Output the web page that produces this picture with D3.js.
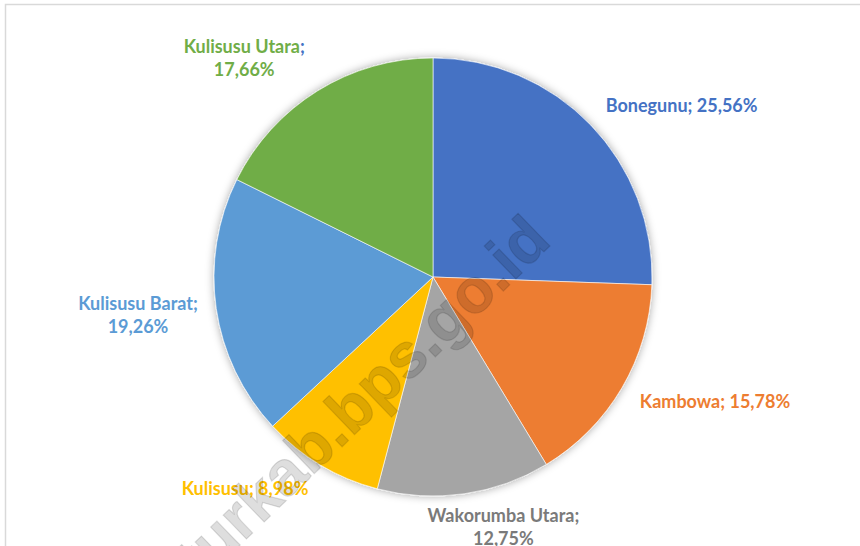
<!DOCTYPE html>
<html>
<head>
<meta charset="utf-8">
<script src="https://cdn.jsdelivr.net/npm/d3@7"></script>
<style>
  html, body { margin: 0; padding: 0; background: #fff; }
  svg { display: block; }
  .lbl { font-family: Lato, "Open Sans", sans-serif; font-weight: bold; font-size: 18px; }
</style>
</head>
<body>
<div id="chart"></div>
<script>
// Kecamatan shares (%)
var names = ["Bonegunu", "Kambowa", "Wakorumba Utara", "Kulisusu", "Kulisusu Barat", "Kulisusu Utara"];
var values = [25.56, 15.78, 12.75, 8.98, 19.26, 17.66];
var valueLabels = ["25,56%", "15,78%", "12,75%", "8,98%", "19,26%", "17,66%"];
var sliceColors = ["#4472C4", "#ED7D31", "#A5A5A5", "#FFC000", "#5B9BD5", "#70AD47"];
var textColors = ["#4472C4", "#ED7D31", "#7a7a7a", "#FFC000", "#5B9BD5", "#70AD47"];
// label line breaks, as Excel wrapped them
var labelLines = [
  ["Bonegunu; 25,56%"],
  ["Kambowa; 15,78%"],
  ["Wakorumba Utara;", "12,75%"],
  ["Kulisusu; 8,98%"],
  ["Kulisusu Barat;", "19,26%"],
  ["Kulisusu Utara;", "17,66%"]
];

var width = 860, height = 546;
var cx = 433, cy = 277, radius = 219, labelRadius = 290;
// best-fit nudges from the label arc
var nudge = [[40, 30], [32, -22], [29, -37], [-39, -37], [-8, -4], [-36, 27]];

var svg = d3.select("#chart").append("svg")
  .attr("width", width)
  .attr("height", height);

// chart area border
svg.append("rect")
  .attr("x", 5.5).attr("y", 4.5)
  .attr("width", width).attr("height", height)
  .attr("fill", "none")
  .attr("stroke", "#d9d9d9")
  .attr("stroke-width", 1.5);

var defs = svg.append("defs");
var f = defs.append("filter").attr("id", "shadow")
  .attr("x", "-20%").attr("y", "-20%").attr("width", "140%").attr("height", "140%");
f.append("feDropShadow")
  .attr("dx", 0).attr("dy", 0)
  .attr("stdDeviation", 4)
  .attr("flood-color", "#000")
  .attr("flood-opacity", 0.35);

var pie = d3.pie().sort(null).value(function(d) { return d; });
var arcs = pie(values);

var arc = d3.arc().innerRadius(0).outerRadius(radius);
var labelArc = d3.arc().innerRadius(labelRadius).outerRadius(labelRadius);

var g = svg.append("g").attr("transform", "translate(" + cx + "," + cy + ")");

g.append("g")
  .attr("filter", "url(#shadow)")
  .selectAll("path")
  .data(arcs)
  .enter().append("path")
  .attr("d", arc)
  .attr("fill", function(d, i) { return sliceColors[i]; })
  .attr("stroke", "#fff")
  .attr("stroke-width", 0.6);

// data labels
var lineH = 23;
arcs.forEach(function(d, i) {
  var c = labelArc.centroid(d);
  var x = c[0] + nudge[i][0], y = c[1] + nudge[i][1];
  var lines = labelLines[i];
  var t = g.append("text")
    .attr("class", "lbl")
    .attr("text-anchor", "middle")
    .attr("fill", textColors[i]);
  lines.forEach(function(line, j) {
    var yy = y + (j - (lines.length - 1) / 2) * lineH;
    var ts = t.append("tspan").attr("x", x).attr("y", yy).attr("dy", "0.36em");
    // Excel draws the separator of this one in the first series colour
    if (names[i] === "Kulisusu Utara" && j === 0) {
      ts.text("Kulisusu Utara");
      t.append("tspan").attr("fill", sliceColors[0]).text(";");
    } else {
      ts.text(line);
    }
  });
});

// watermark
svg.append("text")
  .attr("transform", "translate(553,243) rotate(-44)")
  .attr("text-anchor", "end")
  .attr("font-family", "'Liberation Sans', Arial, sans-serif")
  .attr("font-weight", "bold")
  .attr("font-size", 63)
  .attr("fill", "rgba(0,0,0,0.13)")
  .attr("stroke", "rgba(0,0,0,0.13)")
  .attr("stroke-width", 1.2)
  .attr("paint-order", "stroke")
  .text("buturkab.bps.go.id");
</script>
</body>
</html>
